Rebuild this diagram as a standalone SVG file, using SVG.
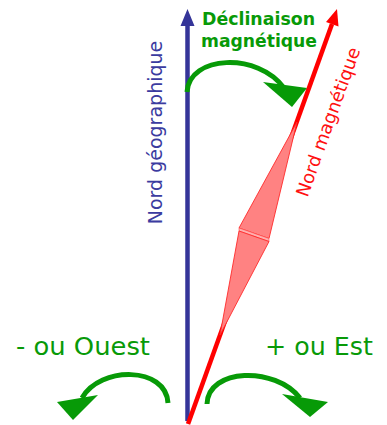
<svg xmlns="http://www.w3.org/2000/svg" width="387" height="425" viewBox="0 0 387 425">
  <style>
    .arc { fill: none; stroke: #079a07; stroke-width: 5; stroke-linecap: butt; }
    .head { fill: #079a07; }
    .needle { fill: #ff8282; stroke: #ff2a2a; stroke-width: 0.9; stroke-linejoin: round; }
    .lbl-green { font-family: "DejaVu Sans", Verdana, sans-serif; fill: #089a08; }
  </style>
  <rect width="387" height="425" fill="#ffffff"/>

  <g id="geographic-north">
    <line x1="187.5" y1="421" x2="187.5" y2="24" stroke="#353599" stroke-width="4.5"/>
    <polygon points="187.5,9 180.5,26 194.5,26" fill="#353599"/>
    <text transform="translate(162,132.5) rotate(-90)" text-anchor="middle" font-family="DejaVu Sans, Verdana, sans-serif" font-size="19" fill="#3b3ba0">Nord géographique</text>
  </g>

  <g id="magnetic-north">
    <line x1="188" y1="424" x2="332" y2="24" stroke="#ff0000" stroke-width="4.5"/>
    <polygon points="337,9 326,22 338.5,26.5" fill="#ff0000"/>
    <polygon class="needle" points="297,122 239,228 269,238.5"/>
    <polygon points="239,228 269,238.5 269,241.5 239,231" fill="#ffb0b0" stroke="#ff4a4a" stroke-width="0.6"/>
    <polygon class="needle" points="239,231 269,241.5 220,335"/>
    <text transform="translate(334,124) rotate(-70.2)" text-anchor="middle" font-family="DejaVu Sans, Verdana, sans-serif" font-size="18" fill="#ff1010">Nord magnétique</text>
  </g>

  <g id="declinaison">
    <text class="lbl-green" x="202" y="25" font-size="17.5" font-weight="bold" textLength="113" lengthAdjust="spacingAndGlyphs">Déclinaison</text>
    <text class="lbl-green" x="201" y="47" font-size="17.5" font-weight="bold" textLength="116" lengthAdjust="spacingAndGlyphs">magnétique</text>
  </g>

  <g id="ouest">
    <text class="lbl-green" x="16" y="355" font-size="25" textLength="134" lengthAdjust="spacingAndGlyphs">- ou Ouest</text>
  </g>

  <g id="est">
    <text class="lbl-green" x="265" y="355" font-size="25" textLength="108" lengthAdjust="spacingAndGlyphs">+ ou Est</text>
  </g>

  <g id="connectors">
    <path class="arc" d="M187,92 C189,55 258,52 284,88"/>
    <polygon class="head" points="263,82 307,88 292,107"/>
    <path class="arc" d="M207,404 C208,368 275,366 300,398"/>
    <polygon class="head" points="282,394 328,402 310,417"/>
    <path class="arc" d="M168,403 C166,366 100,366 82,398"/>
    <polygon class="head" points="98,395 57,402 73,420"/>
  </g>
</svg>
